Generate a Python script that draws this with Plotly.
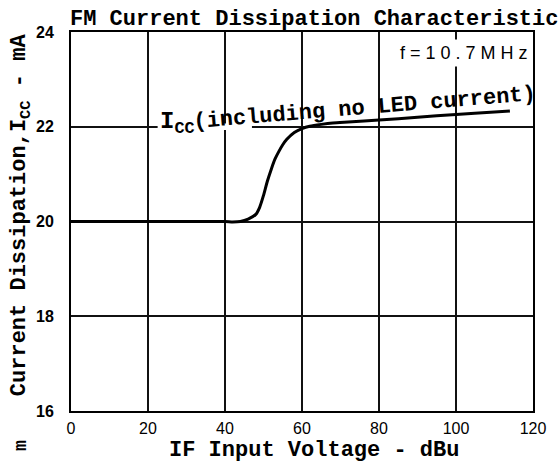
import plotly.graph_objects as go

# IF input voltage (dBu) vs supply current (mA)
if_input_dbu = [0, 10, 20, 30, 40, 42, 44, 46, 48, 49, 50, 51, 52, 53, 54, 55,
                56, 58, 60, 62, 65, 68, 72, 80, 90, 100, 110, 114]
icc_ma = [20.0, 20.0, 20.0, 20.0, 20.0, 19.99, 20.0, 20.05, 20.15, 20.3, 20.55,
          20.85, 21.1, 21.32, 21.48, 21.62, 21.73, 21.88, 21.96, 22.01, 22.05,
          22.08, 22.1, 22.14, 22.2, 22.26, 22.31, 22.33]

x_ticks = [0, 20, 40, 60, 80, 100, 120]
y_ticks = [16, 18, 20, 22, 24]

MONO = "Liberation Mono"
SANS = "Liberation Sans"

fig = go.Figure()
fig.add_trace(
    go.Scatter(
        x=if_input_dbu,
        y=icc_ma,
        mode="lines",
        line=dict(color="black", width=3, shape="spline", smoothing=0.6),
        showlegend=False,
        hoverinfo="skip",
    )
)

# white patch hiding the 22 mA gridline behind the curve label
fig.add_shape(
    type="rect", xref="x", yref="y", x0=22.5, x1=47, y0=21.93, y1=22.07,
    fillcolor="white", line_width=0, layer="between",
)

fig.update_layout(
    width=558,
    height=462,
    margin=dict(l=71, r=15, t=32, b=51),
    paper_bgcolor="white",
    plot_bgcolor="white",
    title=dict(
        text="FM Current Dissipation Characteristic",
        xref="container", yref="container",
        x=70 / 558, xanchor="left",
        y=1 - 17 / 462, yanchor="middle",
        font=dict(family=MONO, size=22, weight="bold", color="black"),
    ),
)

fig.update_xaxes(
    range=[0, 120],
    tickvals=x_ticks,
    showgrid=True, gridcolor="#111", gridwidth=1.5,
    showline=True, linecolor="black", linewidth=2, mirror=True,
    zeroline=False,
    ticks="", ticklabelstandoff=2,
    tickfont=dict(family=SANS, size=16, color="black"),
)
fig.update_yaxes(
    range=[16, 24],
    tickvals=y_ticks,
    showgrid=True, gridcolor="#111", gridwidth=1.5,
    showline=True, linecolor="black", linewidth=2, mirror=True,
    zeroline=False,
    ticks="", ticklabelstandoff=12,
    tickfont=dict(family=SANS, size=16, color="black", weight="bold"),
)

annotations = [
    # x axis title
    dict(text="IF Input Voltage - dBu", xref="paper", yref="paper",
         x=0.525, y=-0.103, xanchor="center", yanchor="middle",
         font=dict(family=MONO, size=22, weight="bold", color="black")),
    # y axis title
    dict(text="Current Dissipation,I<sub>CC</sub> - mA", xref="paper", yref="paper",
         x=-0.108, y=0.517, xanchor="center", yanchor="middle", textangle=-90,
         font=dict(family=MONO, size=22, weight="bold", color="black")),
    # stray glyph at the bottom left of the scan
    dict(text="m", xref="paper", yref="paper",
         x=-0.108, y=-0.092, xanchor="center", yanchor="middle", textangle=-90,
         font=dict(family=MONO, size=18, weight="bold", color="black")),
    # frequency note
    dict(text="f = 1 0 . 7 M H z", xref="x", yref="y",
         x=102, y=23.55, xanchor="center", yanchor="middle",
         bgcolor="white", borderpad=3,
         font=dict(family=SANS, size=18, color="black")),
    # curve label
    dict(text="I<sub>CC</sub>", xref="x", yref="y",
         x=22.6, y=22.08, xanchor="left", yanchor="middle",
         font=dict(family=MONO, size=24, weight="bold", color="black")),
    dict(text="(including no LED current)", xref="x", yref="y",
         x=76.2, y=22.38, xanchor="center", yanchor="middle", textangle=-4.7,
         font=dict(family=MONO, size=22, weight="bold", color="black")),
]
for a in annotations:
    a["showarrow"] = False
    fig.add_annotation(**a)

# the page's default body margin would push the figure off its 558x462 frame
fig.write_html(
    "out.html",
    config={"displayModeBar": False},
    post_script="document.body.style.margin = '0';",
)
